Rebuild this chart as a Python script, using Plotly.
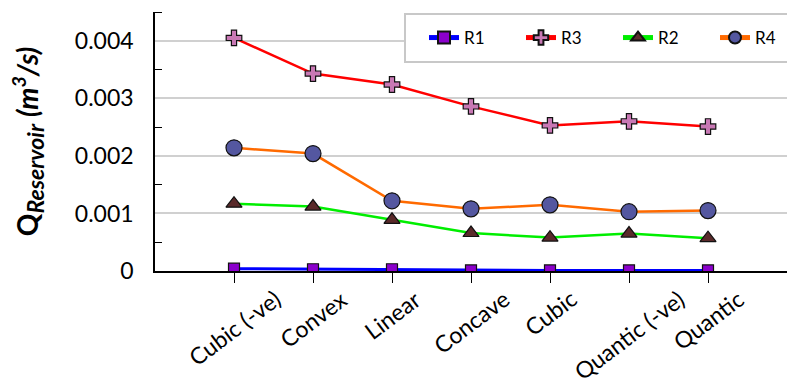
import plotly.graph_objects as go

# Reservoir discharge for each profile shape
categories = ["Cubic (-ve)", "Convex", "Linear", "Concave", "Cubic", "Quantic (-ve)", "Quantic"]
r1 = [0.00004, 0.00003, 0.00003, 0.00001, 0.00001, 0.00001, 0.00001]
r3 = [0.00405, 0.00343, 0.00324, 0.00286, 0.00253, 0.00260, 0.00251]
r2 = [0.00117, 0.00112, 0.00089, 0.00066, 0.00058, 0.00065, 0.00057]
r4 = [0.00214, 0.00204, 0.00122, 0.00108, 0.00115, 0.00103, 0.00105]

y_ticks = [0, 0.001, 0.002, 0.003, 0.004]
y_tick_text = ["0", "0.001", "0.002", "0.003", "0.004"]

FONT = "Lato, 'Open Sans', sans-serif"
W, H = 787, 385
L, R, T, B = 155, 0, 12, 114
PW, PH = W - L - R, H - T - B


def px_x(px):
    return (px - L) / PW


def px_y(px):
    return (H - B - px) / PH


series = [
    ("R1", r1, "#0000FF", 3, "square", "#8B00CC", 11, 424),
    ("R3", r3, "#FF0000", 2.5, "cross", "#C878B4", 13, 521),
    ("R2", r2, "#00EE00", 2.5, "triangle-up", "#5A2A2A", 14, 618),
    ("R4", r4, "#FF6A00", 2.5, "circle", "#5457A0", 16, 715),
]

fig = go.Figure()
legends = {}
for i, (name, vals, lc, lw, sym, mc, ms, lx) in enumerate(series):
    key = "legend" if i == 0 else f"legend{i + 1}"
    fig.add_trace(go.Scatter(
        x=categories, y=vals, name=name, mode="lines+markers",
        line=dict(color=lc, width=lw),
        marker=dict(symbol=sym, color=mc, size=ms, line=dict(color="#111111", width=1.2)),
        legend=key,
    ))
    legends[key] = dict(
        x=px_x(lx), y=px_y(38), xanchor="left", yanchor="middle",
        borderwidth=0, bgcolor="rgba(0,0,0,0)",
        font=dict(size=17, family=FONT), itemsizing="constant",
    )

# Rotated category labels, each centred under its tick
for cat in categories:
    fig.add_annotation(
        x=cat, xref="x", y=-0.042, yref="paper",
        text=cat, showarrow=False, textangle=-37,
        xanchor="center", yanchor="top",
        font=dict(size=23, family=FONT, color="black"),
    )

# Legend frame
fig.add_shape(
    type="rect", xref="paper", yref="paper",
    x0=px_x(405), x1=1.05, y0=px_y(62), y1=px_y(14),
    line=dict(color="#C8C8C8", width=2), fillcolor="white", layer="above",
)

fig.update_layout(
    width=W, height=H,
    margin=dict(l=L, r=R, t=T, b=B, autoexpand=False),
    paper_bgcolor="white", plot_bgcolor="white",
    font=dict(family=FONT, color="black"),
    showlegend=True,
    **legends,
)

fig.update_xaxes(
    type="category", range=[-1, 7],
    showline=True, linecolor="black", linewidth=1.5,
    ticks="outside", ticklen=10, tickcolor="black", tickwidth=1,
    showticklabels=False,
    showgrid=False, zeroline=False,
)

fig.update_yaxes(
    range=[0, 0.0045],
    tickvals=y_ticks, ticktext=y_tick_text,
    tickfont=dict(size=23, family=FONT),
    ticks="", ticklabelstandoff=15,
    showline=True, linecolor="black", linewidth=1.5,
    showgrid=True, gridcolor="#D0D0D0", gridwidth=1.5,
    zeroline=False,
    minor=dict(tickvals=[0.0005, 0.0015, 0.0025, 0.0035, 0.0045],
               ticks="inside", ticklen=7, tickcolor="black", showgrid=False),
    title=dict(
        text="<b>Q<sub><i><span style='font-size:23px'>Reservoir</span></i></sub>"
             " <i>(m<sup>3</sup>/s)</i></b>",
        font=dict(size=28, family=FONT), standoff=28,
    ),
)

fig.write_html("out.html")
